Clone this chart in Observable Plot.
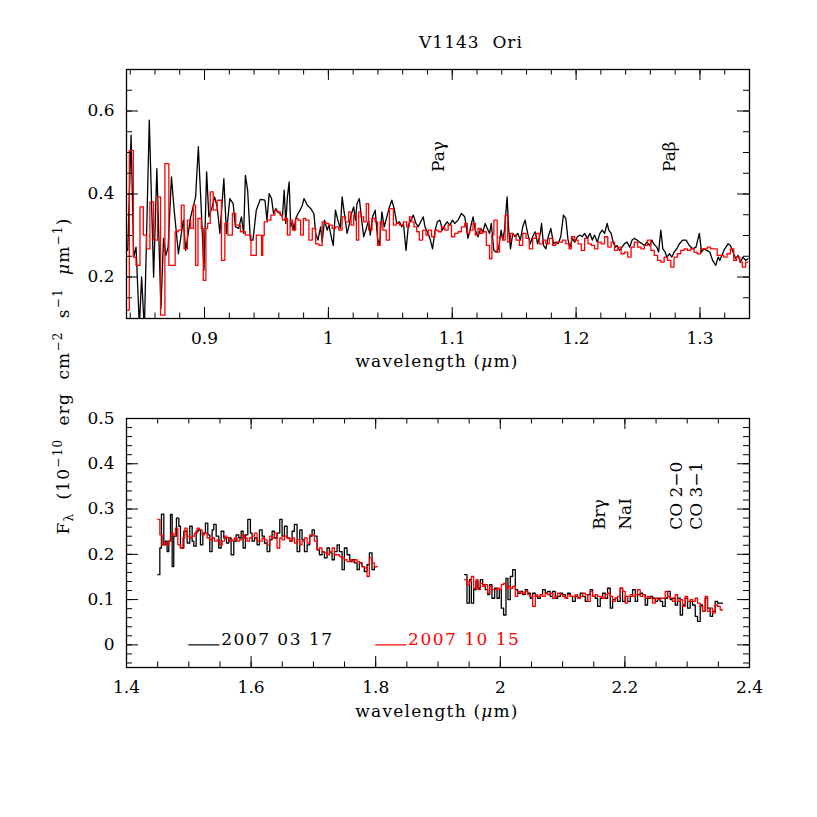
<!DOCTYPE html>
<html><head><meta charset="utf-8">
<script src="https://cdn.jsdelivr.net/npm/d3@7"></script>
<script src="https://cdn.jsdelivr.net/npm/@observablehq/plot@0.6"></script>
<style>
body{margin:0;background:#fff;}
#chart{position:relative;width:817px;height:817px;background:#fff;}
#chart svg{position:absolute;left:0;display:block;}
</style></head><body><div id="chart"></div>
<script>
// ---------- DATA ----------
const topBlackWl = [0.8380,0.8407,0.8428,0.8447,0.8474,0.8492,0.8514,0.8554,0.8589,0.8615,0.8648,0.8669,0.8688,0.8706,0.8733,0.8755,0.8789,0.8829,0.8848,0.8888,0.8928,0.8950,0.8974,0.8995,0.9017,0.9035,0.9062,0.9081,0.9102,0.9124,0.9156,0.9177,0.9204,0.9231,0.9249,0.9276,0.9298,0.9316,0.9330,0.9348,0.9370,0.9391,0.9418,0.9450,
0.9488,0.9504,0.9522,0.9541,0.9557,0.9576,0.9589,0.9611,0.9629,0.9643,0.9656,0.9669,0.9683,0.9696,0.9710,0.9723,0.9736,0.9755,0.9771,0.9790,0.9803,0.9830,0.9857,0.9883,0.9897,0.9916,0.9937,0.9950,0.9969,0.9990,1.0004,1.0023,1.0039,1.0057,1.0076,1.0097,1.0111,1.0129,1.0151,1.0164,1.0183,1.0204,1.0218,1.0231,1.0250,1.0266,1.0285,1.0306,1.0325,1.0338,1.0357,1.0378,1.0397,1.0413,1.0432,1.0451,1.0472,1.0493,1.0512,1.0531,1.0552,1.0574,1.0592,1.0606,1.0627,1.0646,1.0665,1.0686,1.0707,1.0726,1.0745,1.0766,1.0780,1.0798,1.0820,1.0841,1.0860,1.0879,1.0900,1.0921,1.0940,1.0959,1.0980,1.1002,
1.1020,1.1047,1.1074,1.1101,1.1127,1.1149,1.1168,1.1186,1.1208,1.1229,1.1248,1.1266,1.1283,1.1301,1.1315,1.1336,1.1355,1.1374,1.1395,1.1408,1.1422,1.1443,1.1456,1.1470,1.1489,1.1507,1.1529,1.1550,1.1569,1.1588,1.1609,1.1630,1.1649,1.1670,1.1689,1.1711,1.1721,1.1737,1.1756,1.1775,1.1796,1.1818,1.1836,1.1855,1.1876,1.1898,1.1917,1.1935,1.1951,1.1970,1.1989,1.2010,1.2032,1.2050,1.2069,1.2090,1.2112,1.2131,1.2149,1.2171,1.2192,1.2211,1.2230,1.2251,1.2264,1.2283,1.2299,1.2318,1.2331,1.2352,1.2371,1.2390,1.2411,1.2433,1.2452,1.2470,1.2492,1.2513,1.2532,1.2551,1.2572,1.2593,1.2612,1.2625,1.2652,1.2666,1.2684,1.2700,1.2719,1.2732,1.2754,1.2773,1.2791,1.2813,1.2834,1.2861,1.2888,1.2914,1.2941,1.2968,1.2995,1.3013,1.3032,1.3053,1.3080,1.3102,1.3128,1.3147,1.3160,1.3182,1.3200,1.3227,1.3246,1.3267,1.3289,1.3308,1.3326,1.3347,1.3369,1.3387];
const topBlackFlux = [0.264,0.542,0.248,0.272,0.080,0.200,0.072,0.578,0.200,0.461,0.124,0.293,0.252,0.272,0.441,0.361,0.256,0.337,0.264,0.345,0.393,0.514,0.361,0.216,0.453,0.345,0.369,0.393,0.369,0.305,0.437,0.305,0.389,0.377,0.321,0.317,0.345,0.305,0.445,0.409,0.289,0.289,0.361,0.387,
0.385,0.337,0.401,0.389,0.353,0.365,0.357,0.353,0.345,0.409,0.329,0.393,0.429,0.321,0.333,0.313,0.341,0.353,0.361,0.373,0.389,0.373,0.365,0.353,0.305,0.289,0.321,0.285,0.337,0.313,0.325,0.297,0.276,0.361,0.337,0.317,0.393,0.353,0.305,0.321,0.349,0.369,0.337,0.377,0.389,0.345,0.297,0.317,0.337,0.301,0.345,0.361,0.293,0.276,0.357,0.321,0.345,0.369,0.385,0.365,0.329,0.333,0.321,0.329,0.264,0.325,0.337,0.349,0.329,0.321,0.333,0.345,0.321,0.309,0.293,0.268,0.309,0.333,0.337,0.313,0.325,0.333,0.325,0.337,
0.329,0.337,0.353,0.345,0.293,0.321,0.345,0.313,0.297,0.317,0.309,0.329,0.317,0.305,0.329,0.264,0.260,0.268,0.313,0.289,0.313,0.393,0.313,0.268,0.305,0.297,0.305,0.289,0.321,0.337,0.305,0.280,0.297,0.309,0.280,0.305,0.329,0.276,0.268,0.297,0.317,0.280,0.284,0.280,0.297,0.349,0.341,0.289,0.272,0.293,0.284,0.297,0.301,0.297,0.305,0.293,0.305,0.289,0.301,0.284,0.305,0.313,0.305,0.329,0.313,0.305,0.284,0.272,0.276,0.264,0.272,0.280,0.284,0.272,0.289,0.293,0.289,0.284,0.280,0.276,0.284,0.276,0.289,0.280,0.272,0.260,0.313,0.268,0.260,0.248,0.256,0.248,0.260,0.268,0.280,0.289,0.289,0.276,0.268,0.272,0.305,0.260,0.268,0.264,0.260,0.240,0.228,0.248,0.240,0.256,0.268,0.280,0.276,0.260,0.244,0.252,0.236,0.248,0.240,0.244];

const topRedWl = [0.8380,0.8393,0.8425,0.8447,0.8479,0.8506,0.8532,0.8559,0.8589,0.8621,0.8645,0.8680,0.8712,0.8763,0.8787,0.8813,0.8835,0.8862,0.8888,0.8910,0.8928,0.8947,0.8974,0.8990,0.9011,0.9025,0.9046,0.9070,0.9102,0.9137,0.9164,0.9188,0.9225,0.9252,0.9290,0.9330,0.9375,0.9418,0.9461,0.9470,
0.9482,0.9509,0.9536,0.9568,0.9589,0.9611,0.9629,0.9648,0.9669,0.9691,0.9710,0.9736,0.9755,0.9776,0.9798,0.9817,0.9843,0.9870,0.9897,0.9924,0.9950,0.9977,1.0004,1.0031,1.0057,1.0084,1.0111,1.0138,1.0164,1.0183,1.0204,1.0226,1.0245,1.0263,1.0285,1.0306,1.0325,1.0352,1.0378,1.0397,1.0418,1.0440,1.0467,1.0493,1.0525,1.0547,1.0574,1.0606,1.0632,1.0654,1.0673,1.0691,1.0713,1.0734,1.0761,1.0788,1.0806,1.0833,1.0860,1.0887,1.0913,1.0940,1.0967,1.0994,
1.1020,1.1047,1.1074,1.1101,1.1122,1.1141,1.1168,1.1186,1.1208,1.1229,1.1248,1.1275,1.1301,1.1320,1.1336,1.1363,1.1382,1.1408,1.1427,1.1448,1.1470,1.1489,1.1515,1.1542,1.1569,1.1596,1.1622,1.1649,1.1676,1.1703,1.1729,1.1756,1.1783,1.1810,1.1836,1.1863,1.1890,1.1917,1.1943,1.1962,1.1989,1.2016,1.2042,1.2069,1.2096,1.2123,1.2149,1.2176,1.2203,1.2230,1.2256,1.2283,1.2310,1.2337,1.2363,1.2390,1.2417,1.2444,1.2470,1.2497,1.2524,1.2551,1.2577,1.2604,1.2631,1.2658,1.2684,1.2711,1.2738,1.2765,1.2791,1.2818,1.2845,1.2872,1.2898,1.2925,1.2952,1.2978,1.3005,1.3032,1.3059,1.3085,1.3112,1.3139,1.3166,1.3192,1.3219,1.3246,1.3273,1.3294,1.3321,1.3342,1.3369,1.3387];
const topRedFlux = [0.120,0.505,0.248,0.228,0.369,0.301,0.268,0.381,0.289,0.393,0.108,0.473,0.228,0.309,0.313,0.373,0.268,0.337,0.317,0.373,0.228,0.341,0.317,0.192,0.317,0.329,0.405,0.361,0.385,0.240,0.329,0.301,0.353,0.325,0.309,0.301,0.252,0.301,0.252,0.300,
0.333,0.337,0.349,0.361,0.357,0.349,0.337,0.341,0.301,0.337,0.313,0.341,0.337,0.301,0.341,0.337,0.289,0.317,0.280,0.276,0.333,0.329,0.325,0.317,0.321,0.313,0.345,0.333,0.357,0.325,0.349,0.289,0.357,0.345,0.333,0.377,0.313,0.341,0.333,0.276,0.333,0.313,0.289,0.365,0.325,0.329,0.325,0.333,0.321,0.345,0.333,0.321,0.309,0.289,0.313,0.301,0.313,0.297,0.313,0.309,0.321,0.313,0.325,0.297,
0.305,0.309,0.321,0.329,0.305,0.313,0.329,0.301,0.317,0.305,0.309,0.276,0.244,0.301,0.337,0.260,0.297,0.289,0.349,0.284,0.305,0.301,0.289,0.276,0.305,0.293,0.268,0.293,0.305,0.280,0.289,0.280,0.293,0.276,0.284,0.284,0.289,0.280,0.268,0.297,0.289,0.280,0.264,0.293,0.280,0.276,0.268,0.284,0.280,0.297,0.272,0.284,0.264,0.272,0.256,0.260,0.248,0.272,0.284,0.272,0.268,0.276,0.289,0.264,0.252,0.240,0.236,0.248,0.240,0.224,0.248,0.256,0.264,0.268,0.264,0.268,0.260,0.256,0.268,0.268,0.272,0.268,0.268,0.252,0.252,0.248,0.256,0.268,0.240,0.248,0.236,0.224,0.236,0.236];

const botBlackLeftWl = [1.4503,1.4535,1.4561,1.4599,1.4626,1.4652,1.4679,1.4706,1.4733,1.4759,1.4802,1.4840,1.4866,1.4920,1.4973,1.5016,1.5054,1.5080,1.5118,1.5150,1.5187,1.5225,1.5267,1.5305,1.5337,1.5374,1.5401,1.5439,1.5481,1.5519,1.5562,1.5604,1.5642,1.5679,1.5722,1.5759,1.5802,1.5840,1.5872,1.5909,1.5947,1.5989,1.6016,
1.6054,1.6096,1.6134,1.6177,1.6214,1.6257,1.6300,1.6337,1.6374,1.6417,1.6460,1.6497,1.6535,1.6578,1.6620,1.6658,1.6695,1.6738,1.6781,1.6818,1.6856,1.6899,1.6941,1.6979,1.7016,1.7059,1.7096,1.7139,1.7177,1.7219,1.7257,1.7300,1.7337,1.7380,1.7417,1.7460,1.7497,1.7540,1.7583,1.7620,1.7658,1.7701,1.7738,1.7781,1.7818,1.7861,1.7899,1.7941,1.7979,1.8022];
const botBlackLeftFlux = [0.155,0.214,0.289,0.221,0.229,0.206,0.229,0.288,0.173,0.240,0.280,0.262,0.214,0.251,0.225,0.262,0.229,0.218,0.251,0.254,0.221,0.247,0.269,0.243,0.206,0.254,0.266,0.240,0.214,0.251,0.236,0.225,0.236,0.199,0.229,0.243,0.236,0.251,0.214,0.243,0.277,0.247,0.229,
0.236,0.221,0.254,0.240,0.225,0.206,0.232,0.251,0.236,0.247,0.277,0.240,0.262,0.236,0.229,0.251,0.266,0.206,0.254,0.232,0.206,0.221,0.240,0.254,0.240,0.210,0.199,0.206,0.192,0.214,0.203,0.188,0.206,0.221,0.206,0.166,0.214,0.199,0.184,0.188,0.181,0.166,0.181,0.173,0.162,0.177,0.203,0.166,0.173,0.173];
const botRedLeftWl = [1.4503,1.4535,1.4572,1.4610,1.4642,1.4679,1.4717,1.4749,1.4786,1.4824,1.4866,1.4904,1.4936,1.4973,1.5016,1.5054,1.5091,1.5134,1.5171,1.5214,1.5251,1.5294,1.5337,1.5374,1.5412,1.5455,1.5492,1.5535,1.5572,1.5615,1.5652,1.5695,1.5733,1.5775,1.5813,1.5856,1.5893,1.5936,1.5973,1.6016,
1.6054,1.6096,1.6134,1.6177,1.6214,1.6257,1.6300,1.6337,1.6374,1.6417,1.6460,1.6497,1.6535,1.6578,1.6620,1.6658,1.6695,1.6738,1.6781,1.6818,1.6856,1.6899,1.6941,1.6979,1.7016,1.7059,1.7096,1.7139,1.7177,1.7219,1.7257,1.7300,1.7337,1.7380,1.7417,1.7460,1.7497,1.7540,1.7583,1.7620,1.7658,1.7701,1.7738,1.7781,1.7818,1.7861,1.7899,1.7941,1.7979,1.8022];
const botRedLeftFlux = [0.277,0.243,0.221,0.225,0.221,0.229,0.247,0.243,0.258,0.221,0.214,0.236,0.258,0.240,0.236,0.240,0.247,0.258,0.254,0.243,0.247,0.236,0.232,0.236,0.229,0.232,0.221,0.229,0.240,0.237,0.229,0.232,0.236,0.229,0.232,0.243,0.236,0.229,0.236,0.240,
0.247,0.229,0.229,0.236,0.232,0.221,0.240,0.236,0.247,0.214,0.236,0.232,0.240,0.236,0.229,0.236,0.225,0.232,0.221,0.229,0.236,0.225,0.243,0.243,0.229,0.210,0.214,0.206,0.203,0.199,0.206,0.214,0.199,0.199,0.195,0.192,0.188,0.184,0.188,0.184,0.188,0.184,0.181,0.173,0.170,0.151,0.192,0.181,0.173,0.173];

const botRightWl = [1.9428,1.9465,1.9503,1.9535,1.9572,1.9610,1.9642,1.9679,1.9717,1.9759,1.9797,1.9829,1.9866,1.9909,1.9947,1.9984,2.0016,2.0053,2.0091,2.0123,2.0160,2.0198,2.0241,2.0278,2.0321,2.0358,2.0401,2.0438,2.0481,2.0519,2.0562,2.0599,2.0642,2.0679,2.0722,2.0759,2.0802,2.0840,2.0882,2.0920,2.0963,2.1000,2.1043,2.1080,2.1123,2.1160,2.1203,2.1241,2.1283,2.1321,2.1364,2.1401,2.1444,2.1481,2.1524,2.1562,2.1604,2.1642,2.1685,2.1722,2.1765,2.1802,2.1845,2.1882,2.1925,2.1963,2.2005,2.2043,2.2086,2.2123,2.2166,2.2203,2.2246,2.2284,2.2326,2.2364,2.2406,2.2444,2.2487,2.2524,2.2567,2.2605,2.2647,2.2685,2.2727,2.2765,2.2808,2.2845,2.2888,2.2925,2.2968,2.3006,2.3048,2.3086,2.3129,2.3166,2.3209,2.3246,2.3289,2.3326,2.3369,2.3407,2.3449,2.3487,2.3530,2.3567];
const botBlackRightFlux = [0.155,0.092,0.144,0.092,0.122,0.140,0.125,0.144,0.133,0.122,0.111,0.133,0.103,0.125,0.103,0.122,0.081,0.066,0.147,0.100,0.151,0.166,0.122,0.114,0.118,0.111,0.122,0.114,0.103,0.114,0.107,0.103,0.111,0.122,0.114,0.118,0.107,0.118,0.103,0.107,0.114,0.111,0.103,0.114,0.107,0.096,0.107,0.103,0.114,0.107,0.096,0.111,0.122,0.107,0.103,0.085,0.103,0.114,0.103,0.125,0.081,0.100,0.103,0.096,0.125,0.096,0.107,0.096,0.107,0.122,0.096,0.111,0.114,0.111,0.088,0.103,0.107,0.103,0.096,0.103,0.096,0.085,0.103,0.118,0.100,0.103,0.088,0.103,0.066,0.088,0.103,0.081,0.096,0.088,0.063,0.052,0.088,0.074,0.103,0.081,0.063,0.074,0.096,0.092,0.092,0.092];
const botRedRightFlux = [0.144,0.133,0.140,0.151,0.125,0.144,0.122,0.136,0.129,0.133,0.114,0.129,0.122,0.122,0.125,0.122,0.133,0.136,0.125,0.129,0.125,0.129,0.107,0.118,0.114,0.114,0.118,0.111,0.107,0.085,0.111,0.107,0.111,0.107,0.114,0.111,0.114,0.103,0.107,0.114,0.111,0.107,0.103,0.111,0.107,0.107,0.111,0.103,0.107,0.114,0.111,0.096,0.118,0.107,0.111,0.107,0.107,0.103,0.111,0.114,0.107,0.096,0.103,0.107,0.125,0.118,0.092,0.107,0.111,0.107,0.111,0.122,0.107,0.111,0.103,0.107,0.103,0.092,0.103,0.100,0.103,0.103,0.118,0.107,0.103,0.096,0.111,0.096,0.100,0.085,0.107,0.096,0.100,0.096,0.103,0.092,0.085,0.074,0.107,0.074,0.081,0.070,0.088,0.085,0.077,0.077];

// tick values and labels
const topXMajor = [0.9, 1.0, 1.1, 1.2, 1.3];
const topYMajor = [0.2, 0.4, 0.6];
const botXMajor = [1.4, 1.6, 1.8, 2.0, 2.2, 2.4];
const botYMajor = [0, 0.1, 0.2, 0.3, 0.4, 0.5];
// line identifications
const topLineLabels = ["Paγ", "Paβ"];
const topLineWl = [1.0892, 1.2754];
const botLineLabels = ["Brγ", "NaI", "CO 2−0", "CO 3−1"];
const botLineWl = [2.1589, 2.2006, 2.2824, 2.3145];
// legend
const legendLabels = ["2007 03 17", "2007 10 15"];
const legendWl = [1.5, 1.8];
const seriesColors = ["#000000", "#ff0000"];

// ---------- DRAW ----------
const W = 817, ML = 126, MR = 68;
const fmt = d => String(+d.toFixed(2));
const range = (a, b, s) => d3.range(Math.round((b - a) / s) + 1).map(i => +(a + i * s).toFixed(4));

function panel({xDomain, yDomain, xMajor, xMinor, yMajor, yMinor, height, marginTop, marginBottom, marks}) {
  const ph = height - marginTop - marginBottom, pw = W - ML - MR;
  const tk = {stroke: "black", strokeWidth: 1};
  const xm = 11, xn = 5.5, ym = 12, yn = 6;
  return Plot.plot({
    width: W, height, marginLeft: ML, marginRight: MR, marginTop, marginBottom,
    x: {domain: xDomain}, y: {domain: yDomain},
    style: {fontFamily: "DejaVu Serif", fontSize: "17px", background: "transparent", overflow: "visible", color: "black"},
    marks: [
      ...marks,
      Plot.tickX(xMajor, {x: d => d, insetTop: ph - xm, ...tk}),
      Plot.tickX(xMajor, {x: d => d, insetBottom: ph - xm, ...tk}),
      Plot.tickX(xMinor, {x: d => d, insetTop: ph - xn, ...tk}),
      Plot.tickX(xMinor, {x: d => d, insetBottom: ph - xn, ...tk}),
      Plot.tickY(yMajor, {y: d => d, insetRight: pw - ym, ...tk}),
      Plot.tickY(yMajor, {y: d => d, insetLeft: pw - ym, ...tk}),
      Plot.tickY(yMinor, {y: d => d, insetRight: pw - yn, ...tk}),
      Plot.tickY(yMinor, {y: d => d, insetLeft: pw - yn, ...tk}),
      Plot.frame({stroke: "black", strokeWidth: 1.3}),
      Plot.axisX(xMajor, {anchor: "bottom", tickSize: 0, tickPadding: 13, tickFormat: fmt, label: null, fill: "black"}),
      Plot.axisY(yMajor, {anchor: "left", tickSize: 0, tickPadding: 12, tickFormat: fmt, label: null, fill: "black"})
    ]
  });
}

const lw = 1.3;
const topSvg = panel({
  xDomain: [0.837, 1.34], yDomain: [0.1, 0.7],
  xMajor: topXMajor, xMinor: range(0.84, 1.34, 0.02),
  yMajor: topYMajor, yMinor: range(0.1, 0.7, 0.05),
  height: 368, marginTop: 69, marginBottom: 50,
  marks: [
    Plot.line(topBlackWl, {x: topBlackWl, y: topBlackFlux, stroke: seriesColors[0], strokeWidth: lw, clip: true}),
    Plot.line(topRedWl, {x: topRedWl, y: topRedFlux, curve: "step-after", stroke: seriesColors[1], strokeWidth: lw, clip: true}),
    Plot.text(topLineLabels, {x: topLineWl, y: 0.453, text: d => d, rotate: -90, textAnchor: "start", lineAnchor: "middle", fill: "black"})
  ]
});

const botSvg = panel({
  xDomain: [1.4, 2.4], yDomain: [-0.05, 0.5],
  xMajor: botXMajor, xMinor: range(1.45, 2.35, 0.05),
  yMajor: botYMajor, yMinor: range(-0.04, 0.5, 0.02),
  height: 449, marginTop: 50, marginBottom: 150,
  marks: [
    Plot.line(botBlackLeftWl, {x: botBlackLeftWl, y: botBlackLeftFlux, curve: "step-after", stroke: seriesColors[0], strokeWidth: lw, clip: true}),
    Plot.line(botRedLeftWl, {x: botRedLeftWl, y: botRedLeftFlux, curve: "step-after", stroke: seriesColors[1], strokeWidth: lw, clip: true}),
    Plot.line(botRightWl, {x: botRightWl, y: botBlackRightFlux, curve: "step-after", stroke: seriesColors[0], strokeWidth: lw, clip: true}),
    Plot.line(botRightWl, {x: botRightWl, y: botRedRightFlux, curve: "step-after", stroke: seriesColors[1], strokeWidth: lw, clip: true}),
    Plot.text(botLineLabels, {x: botLineWl, y: 0.254, text: d => d, rotate: -90, textAnchor: "start", lineAnchor: "middle", fill: "black"}),
    ...legendLabels.flatMap((lab, i) => [
      Plot.ruleY([0], {x1: legendWl[i], x2: legendWl[i] + 0.05, stroke: seriesColors[i], strokeWidth: 1.2}),
      Plot.text([lab], {x: legendWl[i] + 0.052, y: 0, text: d => d, textAnchor: "start", lineAnchor: "bottom", fill: seriesColors[i]})
    ])
  ]
});

const chart = document.getElementById("chart");
topSvg.style.top = "0px";
botSvg.style.top = "368px";
chart.appendChild(topSvg);
chart.appendChild(botSvg);
d3.select(botSvg).selectAll("text").filter(function(){ return this.textContent.startsWith("2007"); })
  .style("letter-spacing", "1.5px");

// overlay text: title, axis labels
const ov = d3.select(chart).append("svg")
  .attr("width", W).attr("height", 817)
  .style("top", "0px").style("pointer-events", "none")
  .style("font-family", "DejaVu Serif").style("font-size", "17px");

ov.append("text").attr("x", 471).attr("y", 48).attr("text-anchor", "middle")
  .style("letter-spacing", "1px").style("white-space", "pre").text("V1143  Ori");

function wavelabel(y) {
  const t = ov.append("text").attr("x", 437).attr("y", y).attr("text-anchor", "middle")
    .style("letter-spacing", "1.2px").style("white-space", "pre");
  t.append("tspan").text("wavelength (");
  t.append("tspan").style("font-style", "italic").text("μ");
  t.append("tspan").text("m)");
}
wavelabel(367);
wavelabel(717);

const yl = ov.append("text").attr("transform", "translate(69,376) rotate(-90)")
  .attr("text-anchor", "middle").style("white-space", "pre").style("letter-spacing", "1.2px");
const parts = [
  ["F", 0], ["λ", 1], ["  (10", 0], ["−10", -1], ["  erg  cm", 0], ["−2", -1],
  ["  s", 0], ["−1", -1], ["  ", 0], ["μ", 2], ["m", 0], ["−1", -1], [")", 0]
];
let shift = 0;
for (const [txt, kind] of parts) {
  const sp = yl.append("tspan");
  let target = kind === 1 ? 4 : kind === -1 ? -7 : 0;
  sp.attr("dy", target - shift);
  shift = target;
  if (kind === 1 || kind === -1) sp.style("font-size", "12px");
  if (kind === 2) sp.style("font-style", "italic");
  sp.text(txt);
}
</script></body></html>
